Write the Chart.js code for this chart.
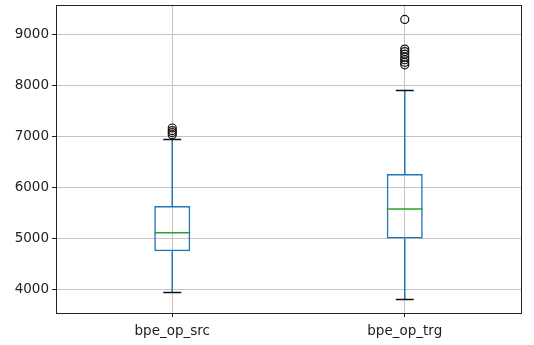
<!DOCTYPE html>
<html>
<head>
<meta charset="utf-8">
<script src="https://cdn.jsdelivr.net/npm/chart.js@4/dist/chart.umd.min.js"></script>
<style>
html,body{margin:0;padding:0;background:#fff;}
#wrap{width:534px;height:345px;position:relative;}
</style>
</head>
<body>
<div id="wrap"><canvas id="boxCanvas"></canvas></div>
<script>
(function(){
'use strict';

var kategorien = ['bpe_op_src','bpe_op_trg'];
var q1 = [4750, 5000];
var median = [5115, 5580];
var q3 = [5640, 6270];
var whiskerLow = [3945, 3808];
var whiskerHigh = [6945, 7922];
var ausreisserSrc = [7040, 7080, 7120, 7170];
var ausreisserTrg = [8410, 8460, 8510, 8560, 8620, 8670, 8720, 9300];
var yTicks = [4000, 5000, 6000, 7000, 8000, 9000];

var BLAU = '#1f77b4', GRUEN = '#2ca02c';

function punkte(kat, arr) {
  return arr.map(function(v){return {x:kat, y:v};});
}

// whiskers, caps, median and the axes frame
var boxExtras = {
  id:'boxExtras',
  afterDatasetsDraw:function(chart){
    var ctx = chart.ctx, xs = chart.scales.x, ys = chart.scales.y;
    var meta = chart.getDatasetMeta(0);
    ctx.save();
    kategorien.forEach(function(k, i){
      var cx = xs.getPixelForValue(i);
      var bw = meta.data[i].width;
      var capHalf = bw/4;
      ctx.lineWidth = 1.5;
      ctx.strokeStyle = BLAU;
      ctx.beginPath();
      ctx.moveTo(cx, ys.getPixelForValue(q3[i])); ctx.lineTo(cx, ys.getPixelForValue(whiskerHigh[i]));
      ctx.moveTo(cx, ys.getPixelForValue(q1[i])); ctx.lineTo(cx, ys.getPixelForValue(whiskerLow[i]));
      ctx.stroke();
      ctx.strokeStyle = '#111';
      ctx.beginPath();
      [whiskerHigh[i], whiskerLow[i]].forEach(function(v){
        var y = Math.round(ys.getPixelForValue(v))+0.5;
        ctx.moveTo(cx-capHalf, y); ctx.lineTo(cx+capHalf, y);
      });
      ctx.stroke();
      ctx.strokeStyle = GRUEN;
      ctx.beginPath();
      var ym = ys.getPixelForValue(median[i]);
      ctx.moveTo(cx-bw/2, ym); ctx.lineTo(cx+bw/2, ym);
      ctx.stroke();
    });
    var a = chart.chartArea;
    ctx.strokeStyle = '#222';
    ctx.lineWidth = 1;
    ctx.strokeRect(Math.round(a.left)+0.5, Math.round(a.top)+0.5, Math.round(a.right-a.left), Math.round(a.bottom-a.top));
    ctx.restore();
  }
};

var ctx = document.getElementById('boxCanvas').getContext('2d');
new Chart(ctx, {
  data:{
    labels:kategorien,
    datasets:[
      {
        type:'bar',
        data:kategorien.map(function(k,i){return [q1[i], q3[i]];}),
        backgroundColor:'rgba(0,0,0,0)',
        borderColor:BLAU,
        borderWidth:1.5,
        borderSkipped:false,
        barPercentage:0.155,
        categoryPercentage:1
      },
      {
        type:'line',
        showLine:false,
        data:punkte(kategorien[0], ausreisserSrc).concat(punkte(kategorien[1], ausreisserTrg)),
        pointStyle:'circle',
        pointRadius:4,
        pointBorderWidth:1.2,
        pointBorderColor:'#111',
        pointBackgroundColor:'rgba(0,0,0,0)'
      }
    ]
  },
  options:{
    responsive:true,
    maintainAspectRatio:false,
    animation:false,
    layout:{padding:{left:0, right:13, top:5, bottom:0}},
    scales:{
      x:{
        type:'category',
        offset:true,
        grid:{offset:false, color:'#c4c4c4', lineWidth:1, tickLength:4, tickColor:'#222', drawOnChartArea:true},
        border:{display:false},
        ticks:{color:'#222', padding:6, font:{family:'DejaVu Sans', size:13.5}},
        afterFit:function(s){s.height = 32; s.paddingLeft = 0; s.paddingRight = 0;}
      },
      y:{
        min:3540,
        max:9580,
        afterBuildTicks:function(s){s.ticks = yTicks.map(function(v){return {value:v};});},
        grid:{color:'#c4c4c4', lineWidth:1, tickLength:4, tickColor:'#222'},
        border:{display:false},
        ticks:{color:'#222', padding:3, font:{family:'DejaVu Sans', size:13.5}, callback:function(v){return String(v);}},
        afterFit:function(s){s.width = 56; s.paddingTop = 0; s.paddingBottom = 0;}
      }
    },
    plugins:{
      legend:{display:false},
      tooltip:{enabled:false}
    }
  },
  plugins:[boxExtras]
});

})();
</script>
</body>
</html>
